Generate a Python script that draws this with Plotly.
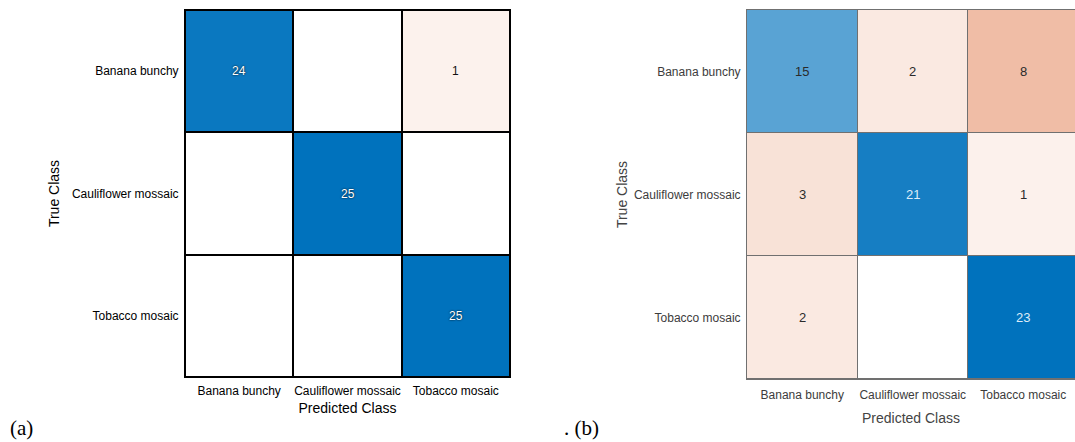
import plotly.graph_objects as go

# Class names (spelling as used on the chart)
classes = ["Banana bunchy", "Cauliflower mossaic", "Tobacco mosaic"]

# Confusion matrices: rows = true class, columns = predicted class
cm_a = [[24, 0, 1],
        [0, 25, 0],
        [0, 0, 25]]
cm_b = [[15, 2, 8],
        [3, 21, 1],
        [2, 0, 23]]

panel_labels = ["(a)", ". (b)"]

W, H = 1075, 442
DIAG_SCALE = [[0, "#ffffff"], [1, "#0072bd"]]
OFF_SCALE = [[0, "#ffffff"], [0.05, "#fbefe9"], [0.35, "#f0bda6"], [1, "#d95319"]]
SANS = "Liberation Sans, Arial"


def split(cm):
    n = len(cm)
    diag = [[cm[i][j] if i == j and cm[i][j] > 0 else None for j in range(n)] for i in range(n)]
    off = [[None if i == j else cm[i][j] for j in range(n)] for i in range(n)]
    return diag, off


def px_x(v):
    return v / W


def px_y(v):
    return 1 - v / H


fig = go.Figure()

panels = [
    dict(cm=cm_a, xa="x", ya="y", xdom=[px_x(185), px_x(510)], ydom=[px_y(377), px_y(10)],
         gap=2, line="#000000", lw=1, tick="#000000", title="#000000",
         light="#ffffff", dark="#111111", shadow="0px 0px 2px #000000", num=12,
         tfs=14, xtick=3, xstand=5, ystand=8,
         xrange=[-0.5, 2.5], right_border=True),
    dict(cm=cm_b, xa="x2", ya="y2", xdom=[px_x(747), 1.0], ydom=[px_y(379), px_y(10)],
         gap=1, line="#707070", lw=1, tick="#3c3c3c", title="#444444",
         light="#dcecf8", dark="#2a2a2a", shadow="none", num=13,
         tfs=14, xtick=5, xstand=11, ystand=2,
         xrange=[-0.5, -0.5 + (W - 747) / 110.5], right_border=False),
]

for k, p in enumerate(panels):
    cm = p["cm"]
    zmax = max(max(r) for r in cm)
    diag, off = split(cm)
    idx = list(range(len(classes)))
    for z, scale in ((off, OFF_SCALE), (diag, DIAG_SCALE)):
        fig.add_trace(go.Heatmap(
            z=z, x=idx, y=idx, zmin=0, zmax=zmax, colorscale=scale,
            showscale=False, xgap=p["gap"], ygap=p["gap"], hoverinfo="skip",
            xaxis=p["xa"], yaxis=p["ya"]))
    # cell counts (zero cells stay blank)
    for i in idx:
        for j in idx:
            v = cm[i][j]
            if v == 0:
                continue
            strong = i == j and v / zmax > 0.75
            fig.add_annotation(
                x=j, y=i, xref=p["xa"], yref=p["ya"], text=str(v), showarrow=False,
                font=dict(family=SANS, size=p["num"],
                          color=p["light"] if strong else p["dark"],
                          shadow=p["shadow"] if strong else "none"))
    # background rectangle showing through cell gaps as grid lines
    fig.add_shape(type="rect", xref=f"{p['xa']} domain", yref=f"{p['ya']} domain",
                  x0=0, x1=1, y0=0, y1=1, fillcolor=p["line"], line_width=0, layer="below")

    axis_font = dict(family=SANS, size=12, color=p["tick"])
    title_font = dict(family=SANS, size=p["tfs"], color=p["title"])
    xkey = "xaxis" if k == 0 else "xaxis2"
    ykey = "yaxis" if k == 0 else "yaxis2"
    fig.update_layout({
        xkey: dict(domain=p["xdom"], anchor=p["ya"], range=p["xrange"],
                   tickmode="array", tickvals=idx, ticktext=classes, ticks="",
                   ticklabelstandoff=p["xtick"],
                   showgrid=False, zeroline=False, showline=True, mirror=True,
                   linecolor=p["line"], linewidth=p["lw"],
                   tickfont=axis_font, automargin=False,
                   title=dict(text="Predicted Class", font=title_font, standoff=p["xstand"])),
        ykey: dict(domain=p["ydom"], anchor=p["xa"], range=[2.5, -0.5],
                   tickmode="array", tickvals=idx, ticktext=classes, ticks="",
                   ticklabelstandoff=3,
                   showgrid=False, zeroline=False, showline=True,
                   mirror=p["right_border"], linecolor=p["line"], linewidth=p["lw"],
                   tickfont=axis_font, automargin=False,
                   title=dict(text="True Class", font=title_font, standoff=p["ystand"])),
    })

# panel letters
for text, x in zip(panel_labels, [px_x(8), px_x(562)]):
    fig.add_annotation(x=x, y=px_y(428), xref="paper", yref="paper", xanchor="left",
                       yanchor="middle", text=text, showarrow=False,
                       font=dict(family="Liberation Serif, Times New Roman", size=21, color="#000000"))

fig.update_layout(width=W, height=H, margin=dict(l=0, r=0, t=0, b=0),
                  paper_bgcolor="#ffffff", plot_bgcolor="#ffffff", showlegend=False)

fig.write_html("out.html")
